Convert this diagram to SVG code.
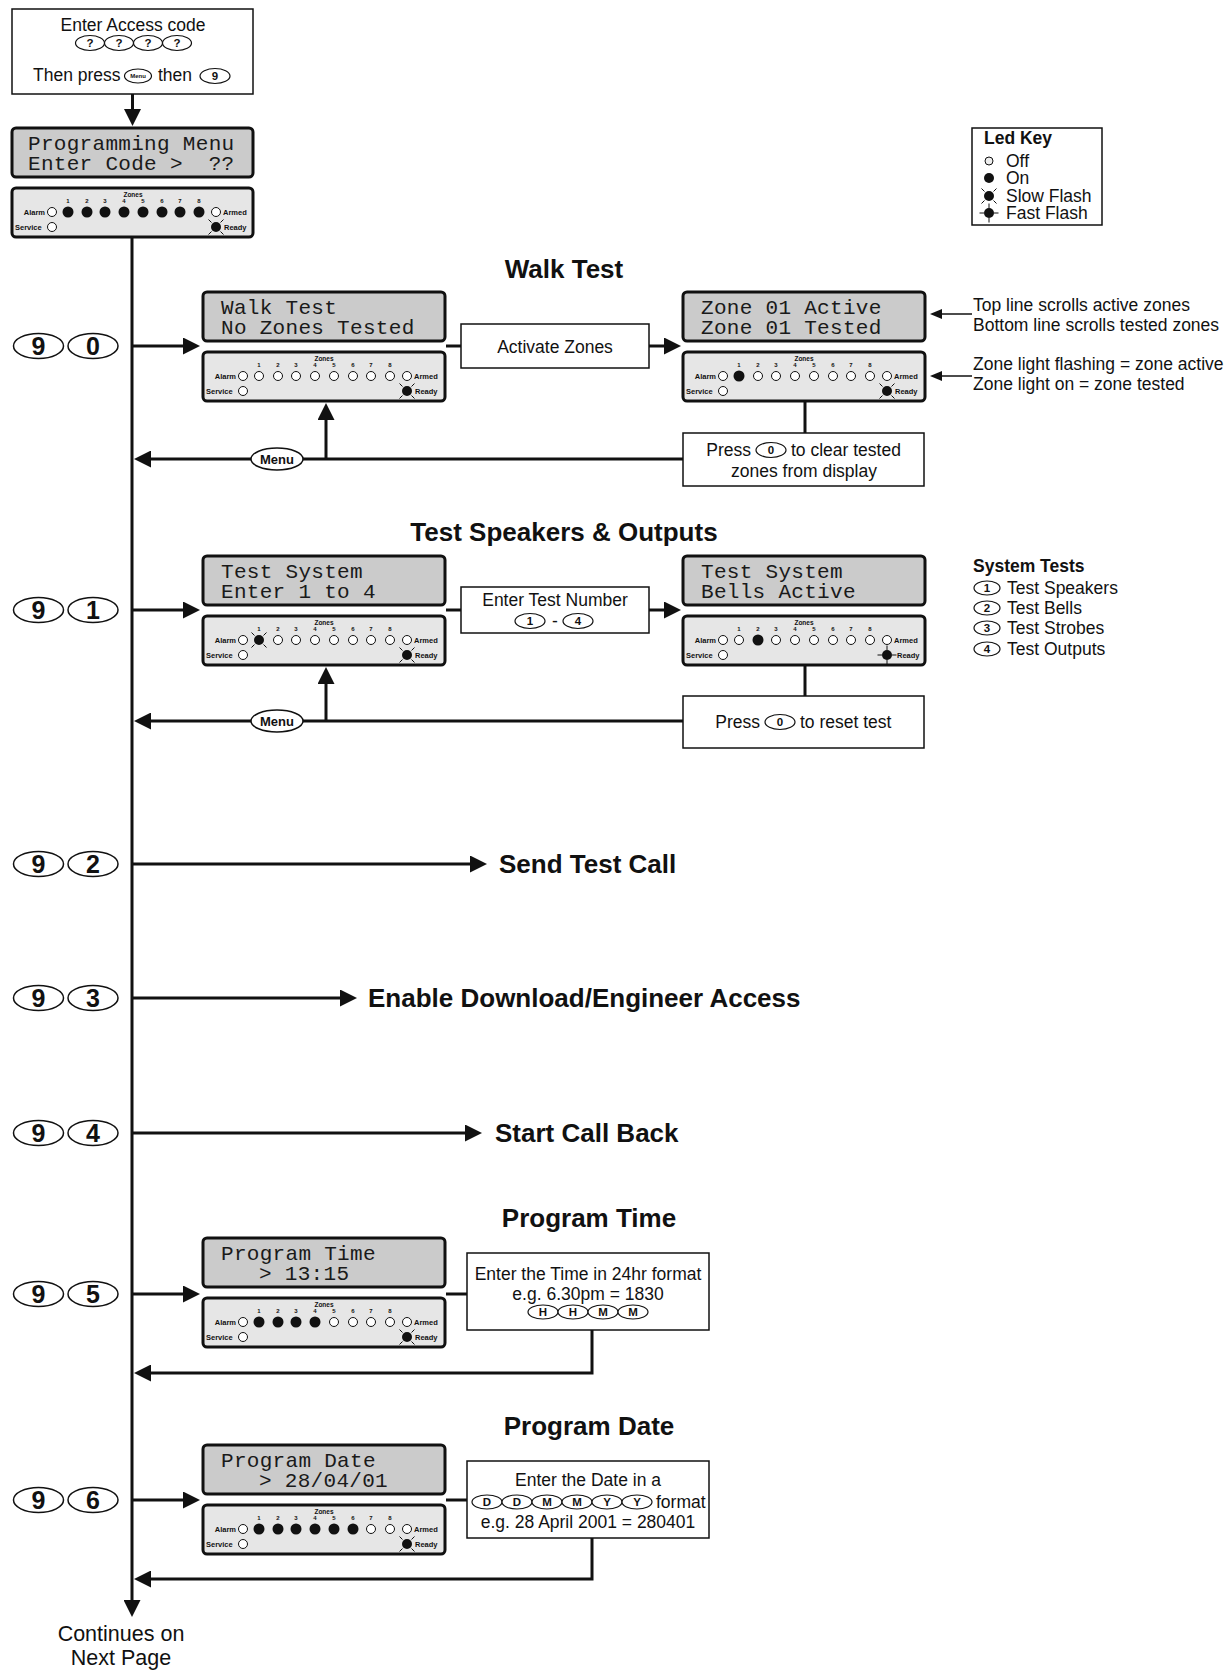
<svg xmlns="http://www.w3.org/2000/svg" xmlns:xlink="http://www.w3.org/1999/xlink" width="1231" height="1670" viewBox="0 0 1231 1670">
<style>
.bg{fill:#fff}
.lcd{fill:#cbcbcb;stroke:#111;stroke-width:3}
.pnl{fill:#e6e6e6;stroke:#111;stroke-width:3}
.box{fill:#fff;stroke:#111;stroke-width:1.5}
.lt{font-family:"Liberation Mono","DejaVu Sans Mono",monospace;font-size:21px;letter-spacing:0.3px;fill:#1a1a1a}
.t{font-family:"Liberation Sans",Arial,sans-serif;font-size:17.5px;fill:#111}
.tc{text-anchor:middle}
.h{font-family:"Liberation Sans",Arial,sans-serif;font-size:26px;font-weight:bold;fill:#111}
.b{font-weight:bold}
.zl{font-family:"Liberation Sans",Arial,sans-serif;font-size:6.5px;font-weight:bold;text-anchor:middle;fill:#111}
.nm{font-family:"Liberation Sans",Arial,sans-serif;font-size:6px;font-weight:bold;text-anchor:middle;fill:#111}
.lb{font-family:"Liberation Sans",Arial,sans-serif;font-size:7.5px;font-weight:bold;fill:#111}
.off{fill:#fff;stroke:#111;stroke-width:1}
.on{fill:#111}
.key{fill:#fff;stroke:#111;stroke-width:1.5}
.kt{font-family:"Liberation Sans",Arial,sans-serif;font-size:25px;font-weight:bold;text-anchor:middle;fill:#111}
.sk{fill:#fff;stroke:#111;stroke-width:1.2}
.skt{font-family:"Liberation Sans",Arial,sans-serif;font-size:11.5px;font-weight:bold;text-anchor:middle;fill:#111}
.mt{font-family:"Liberation Sans",Arial,sans-serif;font-size:13px;font-weight:bold;text-anchor:middle;fill:#111}
.ln{stroke:#111;stroke-width:3;fill:none}
.an{stroke:#111;stroke-width:1.5;fill:none}
</style>
<defs>
<marker id="ah" markerUnits="userSpaceOnUse" viewBox="0 0 17 17" markerWidth="17" markerHeight="17" refX="3" refY="8.5" orient="auto"><path d="M0,0 L17,8.5 L0,17 z" fill="#111"/></marker>
<marker id="sah" markerUnits="userSpaceOnUse" viewBox="0 0 12 10" markerWidth="12" markerHeight="10" refX="2" refY="5" orient="auto"><path d="M0,0 L12,5 L0,10 z" fill="#111"/></marker>
<g id="slow"><circle r="5" fill="#111"/><path d="M-7.5,-7.5 L-4.5,-4.5 M7.5,-7.5 L4.5,-4.5 M-7.5,7.5 L-4.5,4.5 M7.5,7.5 L4.5,4.5" stroke="#111" stroke-width="1"/></g>
<g id="fast"><circle r="5" fill="#111"/><path d="M-9.5,0 H-5 M9.5,0 H5 M0,-9.5 V-5 M0,9.5 V5" stroke="#111" stroke-width="1"/></g>
</defs>
<rect class="bg" width="1231" height="1670"/>

<g id="connectors">
<path class="ln" d="M132.5,94 V112" marker-end="url(#ah)"/>
<path class="ln" d="M132,236 V1603" marker-end="url(#ah)"/>
<path class="ln" d="M132,346 H186" marker-end="url(#ah)"/>
<path class="ln" d="M446,346 H461"/>
<path class="ln" d="M649,346 H667" marker-end="url(#ah)"/>
<path class="ln" d="M805,401 V433"/>
<path class="ln" d="M683,459 H303"/>
<path class="ln" d="M251,459 H148" marker-end="url(#ah)"/>
<path class="ln" d="M326,459 V417" marker-end="url(#ah)"/>
<path class="an" d="M972,314 H940" marker-end="url(#sah)"/>
<path class="an" d="M972,376 H940" marker-end="url(#sah)"/>
<path class="ln" d="M132,610 H186" marker-end="url(#ah)"/>
<path class="ln" d="M446,610 H461"/>
<path class="ln" d="M649,610 H667" marker-end="url(#ah)"/>
<path class="ln" d="M805,665 V696"/>
<path class="ln" d="M683,721 H303"/>
<path class="ln" d="M251,721 H148" marker-end="url(#ah)"/>
<path class="ln" d="M326,721 V681" marker-end="url(#ah)"/>
<path class="ln" d="M132,864 H473" marker-end="url(#ah)"/>
<path class="ln" d="M132,998 H343" marker-end="url(#ah)"/>
<path class="ln" d="M132,1133 H468" marker-end="url(#ah)"/>
<path class="ln" d="M132,1294 H186" marker-end="url(#ah)"/>
<path class="ln" d="M446,1294 H467"/>
<path class="ln" d="M592,1330 V1373 H148" marker-end="url(#ah)"/>
<path class="ln" d="M132,1500 H186" marker-end="url(#ah)"/>
<path class="ln" d="M446,1500 H467"/>
<path class="ln" d="M592,1538 V1579 H148" marker-end="url(#ah)"/>
</g>

<g id="start">
<rect class="box" x="12" y="9" width="241" height="85"/>
<text class="t tc" x="133" y="31">Enter Access code</text>
<ellipse class="sk" cx="90" cy="43" rx="14.5" ry="7.5"/><text class="skt" x="90" y="47">?</text>
<ellipse class="sk" cx="119" cy="43" rx="14.5" ry="7.5"/><text class="skt" x="119" y="47">?</text>
<ellipse class="sk" cx="148" cy="43" rx="14.5" ry="7.5"/><text class="skt" x="148" y="47">?</text>
<ellipse class="sk" cx="177" cy="43" rx="14.5" ry="7.5"/><text class="skt" x="177" y="47">?</text>
<text class="t" x="33" y="81">Then press</text>
<ellipse class="sk" cx="138" cy="76" rx="13.5" ry="7"/><text class="skt" x="138" y="78" style="font-size:6px">Menu</text>
<text class="t" x="158" y="81">then</text>
<ellipse class="sk" cx="215" cy="76" rx="15" ry="7.5"/><text class="skt" x="215" y="80">9</text>
</g>

<g id="menu-display" transform="translate(12,128)">
<rect class="lcd" width="241" height="49" rx="4"/>
<text class="lt" x="16" y="22">Programming Menu</text>
<text class="lt" x="16" y="42" xml:space="preserve">Enter Code &gt;  ??</text>
</g>
<g id="menu-leds" transform="translate(12,188)">
<rect class="pnl" width="241" height="49" rx="4"/>
<text class="zl" x="121" y="9">Zones</text>
<text class="nm" x="56 75 93 112 131 150 168 187" y="15">12345678</text>
<text class="lb" x="33" y="26.5" text-anchor="end">Alarm</text>
<text class="lb" x="3" y="41.5">Service</text>
<text class="lb" x="211" y="26.5">Armed</text>
<text class="lb" x="212" y="41.5">Ready</text>
<circle class="off" cx="40" cy="24" r="4.5"/><circle class="off" cx="40" cy="39" r="4.5"/><circle class="off" cx="204" cy="24" r="4.5"/>
<use xlink:href="#slow" href="#slow" x="204" y="39"/>
<circle class="on" cx="56" cy="24" r="5.5"/><circle class="on" cx="75" cy="24" r="5.5"/><circle class="on" cx="93" cy="24" r="5.5"/><circle class="on" cx="112" cy="24" r="5.5"/><circle class="on" cx="131" cy="24" r="5.5"/><circle class="on" cx="150" cy="24" r="5.5"/><circle class="on" cx="168" cy="24" r="5.5"/><circle class="on" cx="187" cy="24" r="5.5"/>
</g>

<g id="led-key">
<rect class="an" x="972" y="128" width="130" height="97" style="fill:#fff"/>
<text class="t b" x="984" y="144">Led Key</text>
<circle class="off" cx="989" cy="161" r="4" style="fill:#eee"/><text class="t" x="1006" y="167">Off</text>
<circle class="on" cx="989" cy="178" r="5"/><text class="t" x="1006" y="184">On</text>
<use xlink:href="#slow" href="#slow" x="989" y="196"/><text class="t" x="1006" y="202">Slow Flash</text>
<use xlink:href="#fast" href="#fast" x="989" y="213"/><text class="t" x="1006" y="219">Fast Flash</text>
</g>

<!-- 9 0 Walk Test -->
<text class="h tc" x="564" y="278">Walk Test</text>
<g id="key-90">
<ellipse class="key" cx="38.5" cy="346" rx="25" ry="12.5"/><text class="kt" x="38.5" y="355">9</text>
<ellipse class="key" cx="93" cy="346" rx="25" ry="12.5"/><text class="kt" x="93" y="355">0</text>
</g>
<g id="walk-display" transform="translate(203,292)">
<rect class="lcd" width="242" height="49" rx="4"/>
<text class="lt" x="18" y="22">Walk Test</text>
<text class="lt" x="18" y="42">No Zones Tested</text>
</g>
<g id="walk-leds" transform="translate(203,352)">
<rect class="pnl" width="242" height="49" rx="4"/>
<text class="zl" x="121" y="9">Zones</text>
<text class="nm" x="56 75 93 112 131 150 168 187" y="15">12345678</text>
<text class="lb" x="33" y="26.5" text-anchor="end">Alarm</text>
<text class="lb" x="3" y="41.5">Service</text>
<text class="lb" x="211" y="26.5">Armed</text>
<text class="lb" x="212" y="41.5">Ready</text>
<circle class="off" cx="40" cy="24" r="4.5"/><circle class="off" cx="40" cy="39" r="4.5"/><circle class="off" cx="204" cy="24" r="4.5"/>
<use xlink:href="#slow" href="#slow" x="204" y="39"/>
<circle class="off" cx="56" cy="24" r="4.5"/><circle class="off" cx="75" cy="24" r="4.5"/><circle class="off" cx="93" cy="24" r="4.5"/><circle class="off" cx="112" cy="24" r="4.5"/><circle class="off" cx="131" cy="24" r="4.5"/><circle class="off" cx="150" cy="24" r="4.5"/><circle class="off" cx="168" cy="24" r="4.5"/><circle class="off" cx="187" cy="24" r="4.5"/>
</g>
<g id="activate-zones">
<rect class="box" x="461" y="324" width="188" height="44"/>
<text class="t tc" x="555" y="353">Activate Zones</text>
</g>
<g id="zone-display" transform="translate(683,292)">
<rect class="lcd" width="242" height="49" rx="4"/>
<text class="lt" x="18" y="22">Zone 01 Active</text>
<text class="lt" x="18" y="42">Zone 01 Tested</text>
</g>
<g id="zone-leds" transform="translate(683,352)">
<rect class="pnl" width="242" height="49" rx="4"/>
<text class="zl" x="121" y="9">Zones</text>
<text class="nm" x="56 75 93 112 131 150 168 187" y="15">12345678</text>
<text class="lb" x="33" y="26.5" text-anchor="end">Alarm</text>
<text class="lb" x="3" y="41.5">Service</text>
<text class="lb" x="211" y="26.5">Armed</text>
<text class="lb" x="212" y="41.5">Ready</text>
<circle class="off" cx="40" cy="24" r="4.5"/><circle class="off" cx="40" cy="39" r="4.5"/><circle class="off" cx="204" cy="24" r="4.5"/>
<use xlink:href="#slow" href="#slow" x="204" y="39"/>
<circle class="on" cx="56" cy="24" r="5.5"/><circle class="off" cx="75" cy="24" r="4.5"/><circle class="off" cx="93" cy="24" r="4.5"/><circle class="off" cx="112" cy="24" r="4.5"/><circle class="off" cx="131" cy="24" r="4.5"/><circle class="off" cx="150" cy="24" r="4.5"/><circle class="off" cx="168" cy="24" r="4.5"/><circle class="off" cx="187" cy="24" r="4.5"/>
</g>
<g id="walk-notes">
<text class="t" x="973" y="311">Top line scrolls active zones</text>
<text class="t" x="973" y="331">Bottom line scrolls tested zones</text>
<text class="t" x="973" y="370">Zone light flashing = zone active</text>
<text class="t" x="973" y="390">Zone light on = zone tested</text>
</g>
<g id="press-clear">
<rect class="box" x="683" y="433" width="241" height="53"/>
<text class="t" x="751" y="456" text-anchor="end">Press</text>
<ellipse class="sk" cx="771" cy="450" rx="15" ry="7.5"/><text class="skt" x="771" y="454">0</text>
<text class="t" x="791" y="456">to clear tested</text>
<text class="t tc" x="804" y="477">zones from display</text>
</g>
<g id="menu-key-1">
<ellipse class="key" cx="277" cy="459" rx="26" ry="11"/><text class="mt" x="277" y="464">Menu</text>
</g>

<!-- 9 1 Test Speakers -->
<text class="h tc" x="564" y="541">Test Speakers &amp; Outputs</text>
<g id="key-91">
<ellipse class="key" cx="38.5" cy="610" rx="25" ry="12.5"/><text class="kt" x="38.5" y="619">9</text>
<ellipse class="key" cx="93" cy="610" rx="25" ry="12.5"/><text class="kt" x="93" y="619">1</text>
</g>
<g id="test-display" transform="translate(203,556)">
<rect class="lcd" width="242" height="49" rx="4"/>
<text class="lt" x="18" y="22">Test System</text>
<text class="lt" x="18" y="42">Enter 1 to 4</text>
</g>
<g id="test-leds" transform="translate(203,616)">
<rect class="pnl" width="242" height="49" rx="4"/>
<text class="zl" x="121" y="9">Zones</text>
<text class="nm" x="56 75 93 112 131 150 168 187" y="15">12345678</text>
<text class="lb" x="33" y="26.5" text-anchor="end">Alarm</text>
<text class="lb" x="3" y="41.5">Service</text>
<text class="lb" x="211" y="26.5">Armed</text>
<text class="lb" x="212" y="41.5">Ready</text>
<circle class="off" cx="40" cy="24" r="4.5"/><circle class="off" cx="40" cy="39" r="4.5"/><circle class="off" cx="204" cy="24" r="4.5"/>
<use xlink:href="#slow" href="#slow" x="204" y="39"/>
<use xlink:href="#slow" href="#slow" x="56" y="24"/><circle class="off" cx="75" cy="24" r="4.5"/><circle class="off" cx="93" cy="24" r="4.5"/><circle class="off" cx="112" cy="24" r="4.5"/><circle class="off" cx="131" cy="24" r="4.5"/><circle class="off" cx="150" cy="24" r="4.5"/><circle class="off" cx="168" cy="24" r="4.5"/><circle class="off" cx="187" cy="24" r="4.5"/>
</g>
<g id="enter-test-number">
<rect class="box" x="461" y="587" width="188" height="46"/>
<text class="t tc" x="555" y="606">Enter Test Number</text>
<ellipse class="sk" cx="530" cy="621" rx="15" ry="7.5"/><text class="skt" x="530" y="625">1</text>
<text class="t tc" x="555" y="627">-</text>
<ellipse class="sk" cx="578" cy="621" rx="15" ry="7.5"/><text class="skt" x="578" y="625">4</text>
</g>
<g id="bells-display" transform="translate(683,556)">
<rect class="lcd" width="242" height="49" rx="4"/>
<text class="lt" x="18" y="22">Test System</text>
<text class="lt" x="18" y="42">Bells Active</text>
</g>
<g id="bells-leds" transform="translate(683,616)">
<rect class="pnl" width="242" height="49" rx="4"/>
<text class="zl" x="121" y="9">Zones</text>
<text class="nm" x="56 75 93 112 131 150 168 187" y="15">12345678</text>
<text class="lb" x="33" y="26.5" text-anchor="end">Alarm</text>
<text class="lb" x="3" y="41.5">Service</text>
<text class="lb" x="211" y="26.5">Armed</text>
<text class="lb" x="214" y="41.5">Ready</text>
<circle class="off" cx="40" cy="24" r="4.5"/><circle class="off" cx="40" cy="39" r="4.5"/><circle class="off" cx="204" cy="24" r="4.5"/>
<use xlink:href="#fast" href="#fast" x="204" y="39"/>
<circle class="off" cx="56" cy="24" r="4.5"/><circle class="on" cx="75" cy="24" r="5.5"/><circle class="off" cx="93" cy="24" r="4.5"/><circle class="off" cx="112" cy="24" r="4.5"/><circle class="off" cx="131" cy="24" r="4.5"/><circle class="off" cx="150" cy="24" r="4.5"/><circle class="off" cx="168" cy="24" r="4.5"/><circle class="off" cx="187" cy="24" r="4.5"/>
</g>
<g id="system-tests">
<text class="t b" x="973" y="572">System Tests</text>
<ellipse class="sk" cx="987" cy="588" rx="13" ry="7"/><text class="skt" x="987" y="592">1</text><text class="t" x="1007" y="594">Test Speakers</text>
<ellipse class="sk" cx="987" cy="608" rx="13" ry="7"/><text class="skt" x="987" y="612">2</text><text class="t" x="1007" y="614">Test Bells</text>
<ellipse class="sk" cx="987" cy="628" rx="13" ry="7"/><text class="skt" x="987" y="632">3</text><text class="t" x="1007" y="634">Test Strobes</text>
<ellipse class="sk" cx="987" cy="649" rx="13" ry="7"/><text class="skt" x="987" y="653">4</text><text class="t" x="1007" y="655">Test Outputs</text>
</g>
<g id="press-reset">
<rect class="box" x="683" y="696" width="241" height="52"/>
<text class="t" x="760" y="728" text-anchor="end">Press</text>
<ellipse class="sk" cx="780" cy="722" rx="15" ry="7.5"/><text class="skt" x="780" y="726">0</text>
<text class="t" x="800" y="728">to reset test</text>
</g>
<g id="menu-key-2">
<ellipse class="key" cx="277" cy="721" rx="26" ry="11"/><text class="mt" x="277" y="726">Menu</text>
</g>

<!-- 9 2 -->
<g id="key-92">
<ellipse class="key" cx="38.5" cy="864" rx="25" ry="12.5"/><text class="kt" x="38.5" y="873">9</text>
<ellipse class="key" cx="93" cy="864" rx="25" ry="12.5"/><text class="kt" x="93" y="873">2</text>
</g>
<text id="send-test-call" class="h" x="499" y="873">Send Test Call</text>

<!-- 9 3 -->
<g id="key-93">
<ellipse class="key" cx="38.5" cy="998" rx="25" ry="12.5"/><text class="kt" x="38.5" y="1007">9</text>
<ellipse class="key" cx="93" cy="998" rx="25" ry="12.5"/><text class="kt" x="93" y="1007">3</text>
</g>
<text id="enable-download" class="h" x="368" y="1007">Enable Download/Engineer Access</text>

<!-- 9 4 -->
<g id="key-94">
<ellipse class="key" cx="38.5" cy="1133" rx="25" ry="12.5"/><text class="kt" x="38.5" y="1142">9</text>
<ellipse class="key" cx="93" cy="1133" rx="25" ry="12.5"/><text class="kt" x="93" y="1142">4</text>
</g>
<text id="start-call-back" class="h" x="495" y="1142">Start Call Back</text>

<!-- 9 5 Program Time -->
<text class="h tc" x="589" y="1227">Program Time</text>
<g id="key-95">
<ellipse class="key" cx="38.5" cy="1294" rx="25" ry="12.5"/><text class="kt" x="38.5" y="1303">9</text>
<ellipse class="key" cx="93" cy="1294" rx="25" ry="12.5"/><text class="kt" x="93" y="1303">5</text>
</g>
<g id="time-display" transform="translate(203,1238)">
<rect class="lcd" width="242" height="49" rx="4"/>
<text class="lt" x="18" y="22">Program Time</text>
<text class="lt" x="56" y="42">&gt; 13:15</text>
</g>
<g id="time-leds" transform="translate(203,1298)">
<rect class="pnl" width="242" height="49" rx="4"/>
<text class="zl" x="121" y="9">Zones</text>
<text class="nm" x="56 75 93 112 131 150 168 187" y="15">12345678</text>
<text class="lb" x="33" y="26.5" text-anchor="end">Alarm</text>
<text class="lb" x="3" y="41.5">Service</text>
<text class="lb" x="211" y="26.5">Armed</text>
<text class="lb" x="212" y="41.5">Ready</text>
<circle class="off" cx="40" cy="24" r="4.5"/><circle class="off" cx="40" cy="39" r="4.5"/><circle class="off" cx="204" cy="24" r="4.5"/>
<use xlink:href="#slow" href="#slow" x="204" y="39"/>
<circle class="on" cx="56" cy="24" r="5.5"/><circle class="on" cx="75" cy="24" r="5.5"/><circle class="on" cx="93" cy="24" r="5.5"/><circle class="on" cx="112" cy="24" r="5.5"/><circle class="off" cx="131" cy="24" r="4.5"/><circle class="off" cx="150" cy="24" r="4.5"/><circle class="off" cx="168" cy="24" r="4.5"/><circle class="off" cx="187" cy="24" r="4.5"/>
</g>
<g id="time-box">
<rect class="box" x="467" y="1253" width="242" height="77"/>
<text class="t tc" x="588" y="1280">Enter the Time in 24hr format</text>
<text class="t tc" x="588" y="1300">e.g. 6.30pm = 1830</text>
<ellipse class="sk" cx="543" cy="1312" rx="15" ry="7"/><text class="skt" x="543" y="1316">H</text>
<ellipse class="sk" cx="573" cy="1312" rx="15" ry="7"/><text class="skt" x="573" y="1316">H</text>
<ellipse class="sk" cx="603" cy="1312" rx="15" ry="7"/><text class="skt" x="603" y="1316">M</text>
<ellipse class="sk" cx="633" cy="1312" rx="15" ry="7"/><text class="skt" x="633" y="1316">M</text>
</g>

<!-- 9 6 Program Date -->
<text class="h tc" x="589" y="1435">Program Date</text>
<g id="key-96">
<ellipse class="key" cx="38.5" cy="1500" rx="25" ry="12.5"/><text class="kt" x="38.5" y="1509">9</text>
<ellipse class="key" cx="93" cy="1500" rx="25" ry="12.5"/><text class="kt" x="93" y="1509">6</text>
</g>
<g id="date-display" transform="translate(203,1445)">
<rect class="lcd" width="242" height="49" rx="4"/>
<text class="lt" x="18" y="22">Program Date</text>
<text class="lt" x="56" y="42">&gt; 28/04/01</text>
</g>
<g id="date-leds" transform="translate(203,1505)">
<rect class="pnl" width="242" height="49" rx="4"/>
<text class="zl" x="121" y="9">Zones</text>
<text class="nm" x="56 75 93 112 131 150 168 187" y="15">12345678</text>
<text class="lb" x="33" y="26.5" text-anchor="end">Alarm</text>
<text class="lb" x="3" y="41.5">Service</text>
<text class="lb" x="211" y="26.5">Armed</text>
<text class="lb" x="212" y="41.5">Ready</text>
<circle class="off" cx="40" cy="24" r="4.5"/><circle class="off" cx="40" cy="39" r="4.5"/><circle class="off" cx="204" cy="24" r="4.5"/>
<use xlink:href="#slow" href="#slow" x="204" y="39"/>
<circle class="on" cx="56" cy="24" r="5.5"/><circle class="on" cx="75" cy="24" r="5.5"/><circle class="on" cx="93" cy="24" r="5.5"/><circle class="on" cx="112" cy="24" r="5.5"/><circle class="on" cx="131" cy="24" r="5.5"/><circle class="on" cx="150" cy="24" r="5.5"/><circle class="off" cx="168" cy="24" r="4.5"/><circle class="off" cx="187" cy="24" r="4.5"/>
</g>
<g id="date-box">
<rect class="box" x="467" y="1461" width="242" height="77"/>
<text class="t tc" x="588" y="1486">Enter the Date in a</text>
<ellipse class="sk" cx="487" cy="1502" rx="15" ry="7"/><text class="skt" x="487" y="1506">D</text>
<ellipse class="sk" cx="517" cy="1502" rx="15" ry="7"/><text class="skt" x="517" y="1506">D</text>
<ellipse class="sk" cx="547" cy="1502" rx="15" ry="7"/><text class="skt" x="547" y="1506">M</text>
<ellipse class="sk" cx="577" cy="1502" rx="15" ry="7"/><text class="skt" x="577" y="1506">M</text>
<ellipse class="sk" cx="607" cy="1502" rx="15" ry="7"/><text class="skt" x="607" y="1506">Y</text>
<ellipse class="sk" cx="637" cy="1502" rx="15" ry="7"/><text class="skt" x="637" y="1506">Y</text>
<text class="t" x="656" y="1508">format</text>
<text class="t tc" x="588" y="1528">e.g. 28 April 2001 = 280401</text>
</g>

<g id="continues">
<text class="t tc" x="121" y="1641" style="font-size:21.5px">Continues on</text>
<text class="t tc" x="121" y="1665" style="font-size:21.5px">Next Page</text>
</g>
</svg>
